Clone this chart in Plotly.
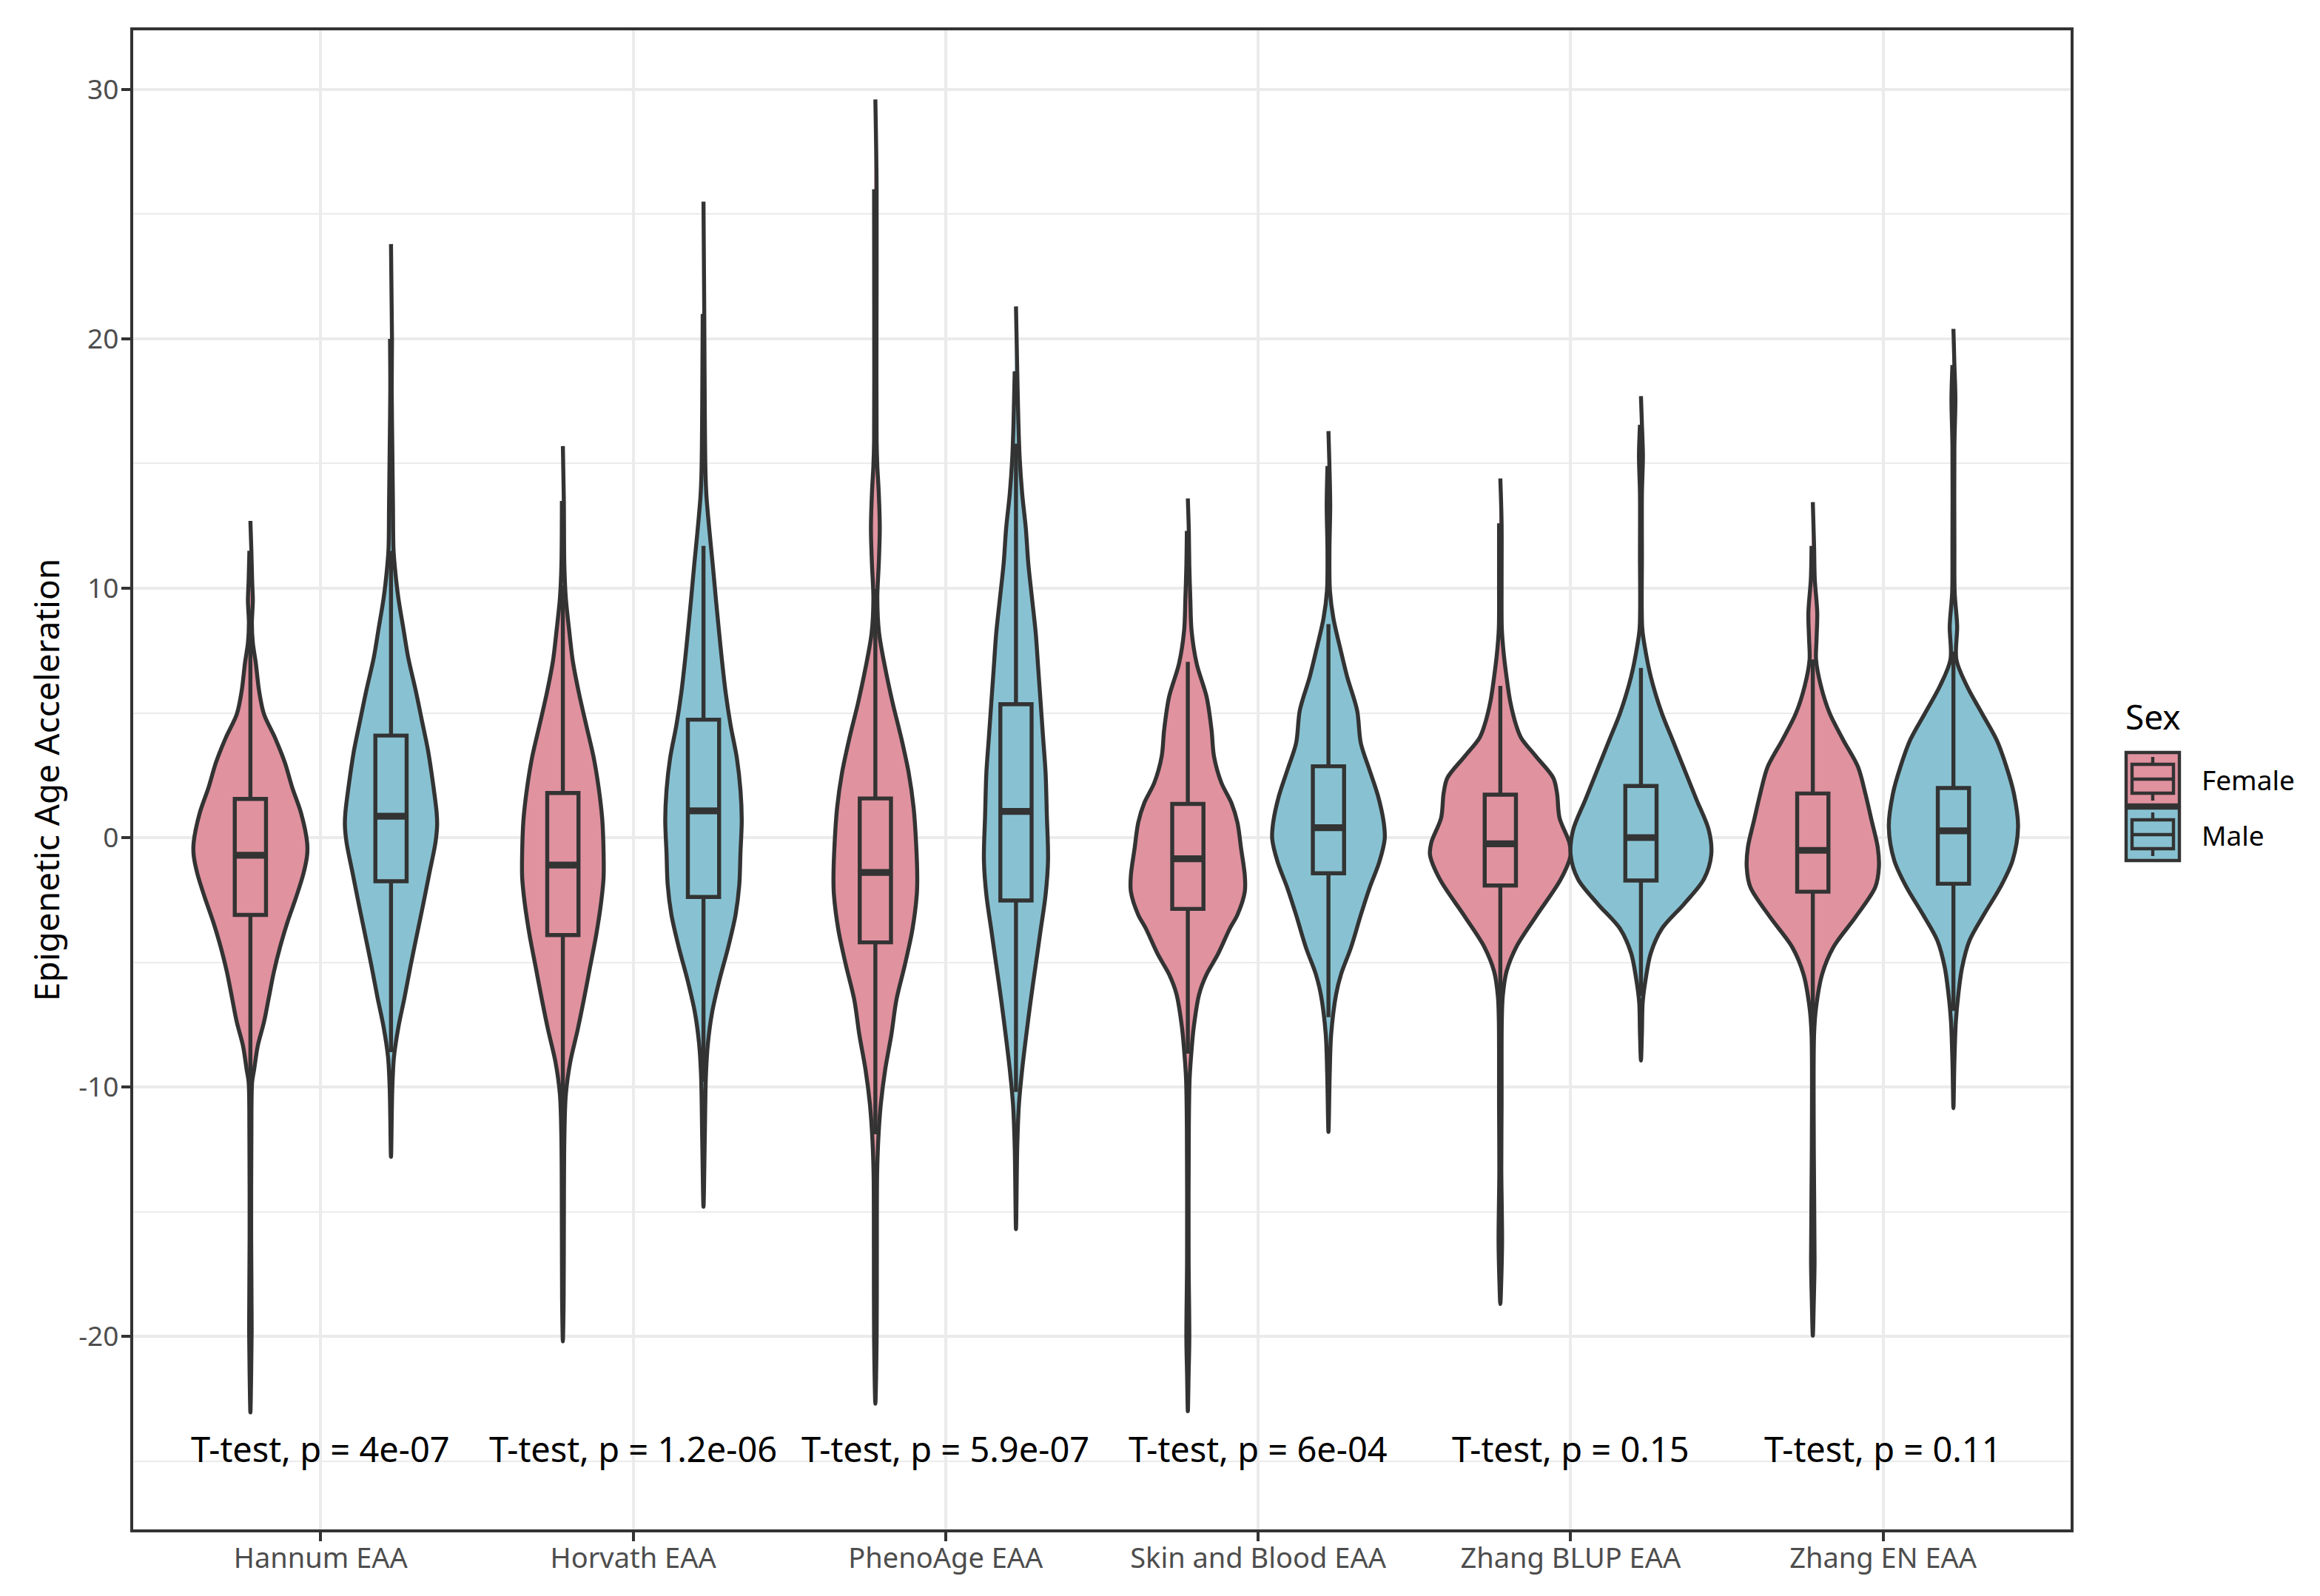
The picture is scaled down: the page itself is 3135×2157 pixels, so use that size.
import plotly.graph_objects as go

# ---------------- data ----------------
categories = ["Hannum EAA", "Horvath EAA", "PhenoAge EAA",
              "Skin and Blood EAA", "Zhang BLUP EAA", "Zhang EN EAA"]
sexes = ["Female", "Male"]
p_labels = ["T-test, p = 4e-07", "T-test, p = 1.2e-06", "T-test, p = 5.9e-07",
            "T-test, p = 6e-04", "T-test, p = 0.15", "T-test, p = 0.11"]
label_y = -25

# box statistics
female_q1 = [-3.10, -3.91, -4.20, -2.86, -1.92, -2.17]
female_median = [-0.71, -1.10, -1.40, -0.85, -0.25, -0.51]
female_q3 = [1.55, 1.79, 1.57, 1.35, 1.72, 1.77]
female_lower = [-9.8, -12.0, -11.9, -8.66, -7.0, -7.76]
female_upper = [8.2, 10.1, 9.97, 7.05, 6.08, 7.14]

male_q1 = [-1.75, -2.38, -2.52, -1.43, -1.72, -1.85]
male_median = [0.86, 1.07, 1.05, 0.40, 0.0, 0.27]
male_q3 = [4.09, 4.73, 5.35, 2.86, 2.07, 1.99]
male_lower = [-8.6, -9.8, -10.2, -7.2, -6.35, -6.95]
male_upper = [11.5, 11.7, 15.8, 8.56, 6.8, 7.46]

# violin density profiles: value levels (EAA) and relative density
hannum_f_y = [12.7, 11.5, 10.3, 9.5, 8.6, 7.8, 7.0, 5.9, 4.95, 4.0, 3.0, 2.0, 1.0, -0.2, -0.7,
              -1.45, -2.4, -3.4, -4.4, -5.4, -6.4, -7.4, -8.35, -9.3, -9.8, -12, -16, -19.7, -21.5, -23.05]
hannum_f_d = [0, 0.014, 0.025, 0.035, 0.021, 0.035, 0.077, 0.123, 0.193, 0.351, 0.491, 0.596, 0.719, 0.807, 0.807,
              0.754, 0.649, 0.526, 0.421, 0.333, 0.263, 0.193, 0.105, 0.053, 0.025, 0.014, 0.011, 0.018, 0.011, 0]
hannum_m_y = [23.8, 20, 18, 15.8, 13.3, 11.6, 10.9, 9.6, 8.4, 7.2, 5.9, 4.7, 3.5, 2.2, 1.0, 0.5, -0.2,
              -1.45, -2.7, -3.9, -5.1, -6.4, -7.6, -8.8, -10.1, -12.8]
hannum_m_d = [0, 0.014, 0.01, 0.018, 0.028, 0.035, 0.053, 0.105, 0.175, 0.246, 0.351, 0.439, 0.526, 0.596, 0.649, 0.656, 0.632,
              0.544, 0.456, 0.368, 0.281, 0.193, 0.105, 0.042, 0.018, 0]

horvath_f_y = [15.7, 13.5, 10.9, 9.6, 8.35, 7.1, 5.8, 4.5, 3.2, 2.0, 0.7, -0.6, -1.6, -2.6, -3.9, -5.2,
               -6.5, -7.7, -9.0, -10.3, -12.1, -15.9, -18.5, -20.2]
horvath_f_d = [0, 0.014, 0.021, 0.042, 0.088, 0.140, 0.228, 0.333, 0.439, 0.509, 0.561, 0.579, 0.579, 0.544, 0.474, 0.386,
               0.298, 0.211, 0.105, 0.042, 0.021, 0.014, 0.011, 0]
horvath_m_y = [25.5, 21, 17.3, 14.7, 13.7, 12.2, 10.9, 9.6, 8.35, 7.1, 5.8, 4.5, 3.2, 1.9, 0.7, -0.6, -1.9,
               -3.1, -4.4, -5.7, -7.0, -8.25, -9.5, -12.1, -14.8]
horvath_m_d = [0, 0.011, 0.018, 0.028, 0.042, 0.088, 0.133, 0.175, 0.218, 0.263, 0.316, 0.386, 0.474, 0.526, 0.544, 0.526, 0.509,
               0.456, 0.351, 0.228, 0.123, 0.063, 0.035, 0.018, 0]

pheno_f_y = [29.6, 26, 20, 15.9, 14.9, 13.8, 12.4, 11.0, 9.6, 8.2, 6.8, 5.4, 4.0, 2.6, 1.2, -0.2, -1.6, -2.3,
             -3.7, -5.1, -6.5, -7.9, -9.3, -10.7, -12.1, -13.5, -16.6, -20.1, -22.7]
pheno_f_d = [0, 0.018, 0.016, 0.018, 0.028, 0.049, 0.063, 0.049, 0.028, 0.053, 0.140, 0.246, 0.368, 0.474, 0.544, 0.579, 0.596, 0.589,
             0.526, 0.42, 0.30, 0.228, 0.140, 0.077, 0.042, 0.025, 0.021, 0.018, 0]
pheno_m_y = [21.3, 18.7, 16.6, 15.2, 13.8, 12.4, 11.0, 9.6, 8.2, 6.8, 5.4, 4.0, 2.6, 0.9, -0.9, -2.3,
             -3.7, -5.1, -6.5, -7.9, -9.3, -10.7, -12.4, -15.7]
pheno_m_d = [0, 0.018, 0.035, 0.053, 0.088, 0.140, 0.175, 0.228, 0.281, 0.316, 0.351, 0.386, 0.421, 0.439, 0.456, 0.421,
             0.351, 0.281, 0.211, 0.147, 0.088, 0.042, 0.018, 0]

skin_f_y = [13.6, 12.3, 10.9, 9.6, 8.3, 6.97, 5.64, 4.32, 3.26, 2.2, 1.4, 0.61, -0.45, -1.51, -2.17, -3.1,
            -3.63, -4.69, -5.48, -6.28, -7.6, -8.66, -9.7, -11.6, -16.9, -20.1, -21.5, -23.0]
skin_f_d = [0, 0.014, 0.021, 0.035, 0.053, 0.126, 0.267, 0.337, 0.372, 0.477, 0.618, 0.705, 0.758, 0.81, 0.81, 0.705,
            0.60, 0.425, 0.267, 0.161, 0.084, 0.049, 0.025, 0.014, 0.011, 0.021, 0.011, 0]
skin_m_y = [16.3, 14.9, 13.3, 11.5, 9.9, 8.8, 7.5, 6.44, 5.11, 3.79, 2.73, 1.67, 0.61, -0.05, -0.98,
            -2.04, -3.1, -4.42, -5.48, -6.28, -7.87, -9.46, -11.8]
skin_m_d = [0, 0.014, 0.025, 0.014, 0.021, 0.07, 0.175, 0.267, 0.407, 0.46, 0.582, 0.705, 0.786, 0.80, 0.723,
            0.582, 0.46, 0.319, 0.179, 0.109, 0.039, 0.018, 0]

blup_f_y = [14.4, 12.6, 10.1, 8.4, 7.44, 6.45, 5.47, 4.48, 3.99, 3.25, 2.39, 1.77, 0.79, -0.2, -0.69,
            -1.67, -3.15, -4.38, -5.37, -6.35, -7.34, -10.8, -13.3, -16.2, -17.7, -18.7]
blup_f_d = [0, 0.018, 0.018, 0.021, 0.046, 0.088, 0.14, 0.228, 0.298, 0.509, 0.754, 0.807, 0.842, 0.982, 1.0,
            0.86, 0.509, 0.228, 0.088, 0.035, 0.021, 0.018, 0.014, 0.025, 0.014, 0]
blup_m_y = [17.7, 16.55, 15.3, 13.8, 11.4, 8.42, 7.68, 6.45, 4.98, 3.99, 2.76, 1.53, 0.3, -0.69,
            -1.67, -2.66, -3.65, -4.63, -5.62, -6.6, -7.83, -8.94]
blup_m_d = [0, 0.014, 0.028, 0.014, 0.014, 0.018, 0.053, 0.14, 0.298, 0.439, 0.614, 0.789, 0.965, 1.0,
            0.895, 0.614, 0.298, 0.14, 0.07, 0.025, 0.014, 0]

en_f_y = [13.45, 11.7, 10.36, 9.02, 7.94, 7.14, 6.07, 4.99, 3.92, 2.84, 1.77, 0.7, -0.38, -1.18, -1.99,
          -3.19, -4.4, -5.47, -6.82, -7.89, -12.45, -17.0, -18.6, -19.97]
en_f_d = [0, 0.018, 0.028, 0.063, 0.053, 0.046, 0.116, 0.239, 0.432, 0.642, 0.747, 0.835, 0.923, 0.94, 0.888,
          0.607, 0.291, 0.133, 0.046, 0.018, 0.014, 0.025, 0.014, 0]
en_m_y = [20.4, 18.95, 17.6, 15.7, 11.7, 9.82, 8.48, 7.14, 6.07, 4.99, 3.92, 2.84, 1.77, 0.43, -0.91,
          -1.99, -3.06, -4.13, -5.21, -6.28, -7.35, -8.96, -10.85]
en_m_d = [0, 0.014, 0.028, 0.014, 0.014, 0.018, 0.053, 0.042, 0.193, 0.404, 0.614, 0.754, 0.86, 0.919, 0.842,
          0.667, 0.439, 0.228, 0.123, 0.07, 0.035, 0.014, 0]

violin_profiles = {
    "Female": [(hannum_f_y, hannum_f_d), (horvath_f_y, horvath_f_d), (pheno_f_y, pheno_f_d),
               (skin_f_y, skin_f_d), (blup_f_y, blup_f_d), (en_f_y, en_f_d)],
    "Male": [(hannum_m_y, hannum_m_d), (horvath_m_y, horvath_m_d), (pheno_m_y, pheno_m_d),
             (skin_m_y, skin_m_d), (blup_m_y, blup_m_d), (en_m_y, en_m_d)],
}
box_stats = {
    "Female": (female_q1, female_median, female_q3, female_lower, female_upper),
    "Male": (male_q1, male_median, male_q3, male_lower, male_upper),
}

# ---------------- style ----------------
fill_colors = {"Female": "#E0929F", "Male": "#88C2D2"}
edge = "#333333"
lw = 5.4          # violin / box outline
gw = 4.4          # grid / border
dodge = {"Female": -0.225, "Male": 0.225}
half_violin = 0.225
box_width = 0.1
FONT = "Noto Sans"

# page geometry (the page body has an 8px margin)
OFF = 8
PAGE_W, PAGE_H = 3135, 2157
W, H = PAGE_W - 2 * OFF, PAGE_H - 2 * OFF
P_LEFT, P_RIGHT, P_TOP, P_BOTTOM = 180, 2798, 41, 2067   # plot panel on the page
ML, MT = P_LEFT - OFF, P_TOP - OFF
MR, MB = W - (P_RIGHT - OFF), H - (P_BOTTOM - OFF)
PW, PH = P_RIGHT - P_LEFT, P_BOTTOM - P_TOP
XRANGE = [0.4, len(categories) + 0.6]

fig = go.Figure()

gmax = max(max(d) for s in sexes for (_, d) in violin_profiles[s])
k = half_violin / gmax

# violins (main subplot)
for s in sexes:
    for i, (ys, ds) in enumerate(violin_profiles[s]):
        c = i + 1 + dodge[s]
        xs = [c + d * k for d in ds] + [c - d * k for d in ds[-2:0:-1]]
        yy = list(ys) + list(ys[-2:0:-1])
        fig.add_trace(go.Scatter(
            x=xs, y=yy, mode="lines", fill="toself",
            fillcolor=fill_colors[s],
            line=dict(color=edge, width=lw, shape="spline", smoothing=0.9),
            showlegend=False, hoverinfo="skip"))

# boxes (overlaid subplot so they sit above the violins)
for s in sexes:
    q1, med, q3, lo, hi = box_stats[s]
    xpos = [i + 1 + dodge[s] for i in range(len(categories))]
    fig.add_trace(go.Box(
        x=xpos, q1=q1, median=med, q3=q3, lowerfence=lo, upperfence=hi,
        width=box_width, fillcolor=fill_colors[s],
        line=dict(color=edge, width=lw), whiskerwidth=0,
        boxpoints=False, name=s, showlegend=False,
        xaxis="x2", yaxis="y"))
for s in sexes:
    q1, med, q3, lo, hi = box_stats[s]
    xpos = [i + 1 + dodge[s] for i in range(len(categories))]
    mx, my = [], []
    for x0, m in zip(xpos, med):
        mx += [x0 - box_width / 2, x0 + box_width / 2, None]
        my += [m, m, None]
    fig.add_trace(go.Scatter(x=mx, y=my, mode="lines",
                             line=dict(color=edge, width=2 * lw * 0.85),
                             showlegend=False, hoverinfo="skip",
                             xaxis="x2", yaxis="y"))

# p-value labels
for i, lab in enumerate(p_labels):
    fig.add_annotation(x=i + 1, y=label_y, text=lab, showarrow=False,
                       xanchor="center", yanchor="bottom", yshift=-17,
                       font=dict(family=FONT, size=47, color="black"))


# ---------------- legend (drawn as key glyphs) ----------------
def px_x(p):
    return (p - P_LEFT) / PW


def px_y(p):
    return (P_BOTTOM - p) / PH


fig.add_annotation(xref="paper", yref="paper", x=px_x(2870), y=px_y(968), text="Sex",
                   showarrow=False, xanchor="left", yanchor="middle",
                   font=dict(family=FONT, size=46, color="black"))
key_top = 1017
key_h = 75
for j, s in enumerate(sexes):
    t = key_top + j * key_h
    fig.add_shape(type="rect", xref="paper", yref="paper",
                  x0=px_x(2873), x1=px_x(2945), y0=px_y(t), y1=px_y(t + 71),
                  fillcolor=fill_colors[s], line=dict(color=edge, width=gw))
    fig.add_shape(type="rect", xref="paper", yref="paper",
                  x0=px_x(2881), x1=px_x(2937), y0=px_y(t + 16), y1=px_y(t + 55),
                  fillcolor=fill_colors[s], line=dict(color=edge, width=gw))
    fig.add_shape(type="line", xref="paper", yref="paper",
                  x0=px_x(2881), x1=px_x(2937), y0=px_y(t + 36), y1=px_y(t + 36),
                  line=dict(color=edge, width=gw))
    fig.add_shape(type="line", xref="paper", yref="paper",
                  x0=px_x(2909), x1=px_x(2909), y0=px_y(t + 6), y1=px_y(t + 16),
                  line=dict(color=edge, width=gw))
    fig.add_shape(type="line", xref="paper", yref="paper",
                  x0=px_x(2909), x1=px_x(2909), y0=px_y(t + 55), y1=px_y(t + 65),
                  line=dict(color=edge, width=gw))
    fig.add_annotation(xref="paper", yref="paper", x=px_x(2973), y=px_y(t + 36), text=s,
                       showarrow=False, xanchor="left", yanchor="middle",
                       font=dict(family=FONT, size=37, color="black"))

# ---------------- layout ----------------
fig.update_layout(
    width=W, height=H,
    margin=dict(l=ML, r=MR, t=MT, b=MB, autoexpand=False),
    paper_bgcolor="white", plot_bgcolor="white",
    font=dict(family=FONT),
    showlegend=False,
    boxmode="overlay",
    xaxis=dict(
        range=XRANGE, automargin=False,
        tickmode="array", tickvals=list(range(1, len(categories) + 1)), ticktext=categories,
        showgrid=True, gridcolor="#EBEBEB", gridwidth=gw,
        zeroline=False, showline=True, linecolor=edge, linewidth=gw, mirror=True,
        ticks="outside", ticklen=12, tickwidth=gw, tickcolor=edge,
        ticklabelstandoff=-10,
        tickfont=dict(family=FONT, size=38, color="#4D4D4D"),
    ),
    xaxis2=dict(range=XRANGE, overlaying="x", visible=False, automargin=False,
                showgrid=False, zeroline=False),
    yaxis=dict(
        range=[-27.74, 32.37], automargin=False,
        tickmode="array", tickvals=[-20, -10, 0, 10, 20, 30],
        ticktext=["-20", "-10", "0", "10", "20", "30"],
        showgrid=True, gridcolor="#EBEBEB", gridwidth=gw,
        minor=dict(tickmode="array", tickvals=[-25, -15, -5, 5, 15, 25],
                   showgrid=True, gridcolor="#EBEBEB", gridwidth=gw / 2, ticks=""),
        zeroline=False, showline=True, linecolor=edge, linewidth=gw, mirror=True,
        ticks="outside", ticklen=12, tickwidth=gw, tickcolor=edge,
        ticklabelstandoff=-4,
        tickfont=dict(family=FONT, size=37, color="#4D4D4D"),
        title=dict(text="Epigenetic Age Acceleration", standoff=12,
                   font=dict(family=FONT, size=46, color="black")),
    ),
)

fig.write_html("out.html")
